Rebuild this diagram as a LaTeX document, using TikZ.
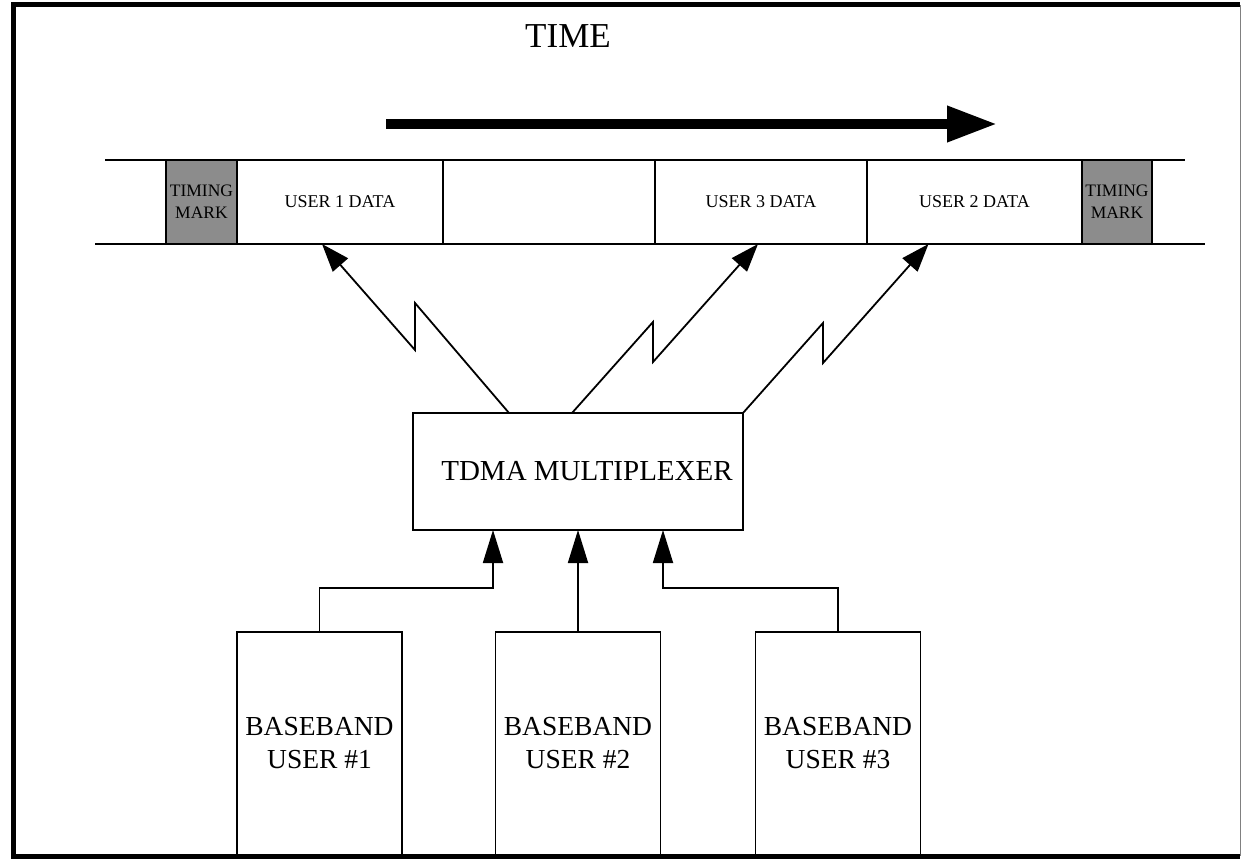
\documentclass[tikz,border=0pt]{standalone}
\usepackage{fontspec}
\setmainfont{Liberation Serif}
\usetikzlibrary{arrows.meta}

\begin{document}
\begin{tikzpicture}[x=1pt, y=-1pt,
  boite/.style={draw, line width=1.8pt, inner sep=0pt, outer sep=0pt},
  case/.style={boite, minimum height=84pt, font=\fontsize{18}{21}\selectfont},
  repere/.style={case, minimum width=70pt, fill=black!45, align=center, font=\fontsize{17.5}{22}\selectfont},
  bande/.style={boite, minimum width=165pt, minimum height=223pt, align=center, font=\fontsize{27.5}{33}\selectfont},
  radio/.style={line width=1.8pt, -{Triangle[length=28pt, width=20pt]}},
  fleche/.style={line width=1.8pt, -{Triangle[length=33pt, width=20pt]}}]
  \useasboundingbox (0,0) rectangle (1242,861);
  % Cadre
  \draw[line width=5pt] (1240,5) -- (13,5) -- (13,856) -- (1240,856);
  \draw[line width=1pt, black!50] (1240,5) -- (1240,856);
  % Temps
  \node[font=\fontsize{35}{40}\selectfont] (temps) at (568,36) {TIME};
  \coordinate (t0) at (386,124);
  \coordinate (t1) at (997,124);
  \draw[line width=10pt, -{Triangle[length=50pt, width=34pt]}] (t0) -- (t1);
  % Trame TDMA
  \draw[line width=1.8pt] (105,160) -- (1185,160);
  \draw[line width=1.8pt] (95,244) -- (1205,244);
  \node[repere, minimum width=71pt] (tm1) at (201.5,202) {TIMING\\MARK};
  \node[case, minimum width=206pt] (u1) at (340,202) {USER 1 DATA};
  \node[case, minimum width=212pt] (vide) at (549,202) {};
  \node[case, minimum width=212pt] (u3) at (761,202) {USER 3 DATA};
  \node[case, minimum width=215pt] (u2) at (974.5,202) {USER 2 DATA};
  \node[repere] (tm2) at (1117,202) {TIMING\\MARK};
  % Multiplexeur
  \node[boite, minimum width=330pt, minimum height=117pt, font=\fontsize{29}{34}\selectfont] (tdma) at (578,471.5) {\hspace*{18pt}TDMA MULTIPLEXER};
  % Liaisons radio
  \draw[radio] ([xshift=-69pt]tdma.north) -- ++(-94,-110) -- ++(0,47) -- ([xshift=-18pt]u1.south);
  \draw[radio] ([xshift=-6pt]tdma.north) -- ++(81,-91) -- ++(0,40) -- ([xshift=-3pt]u3.south);
  \draw[radio] (tdma.north east) -- ++(80,-90) -- ++(0,40) -- ([xshift=-46pt]u2.south);
  % Utilisateurs
  \node[bande] (bb1) at (319.5,743.5) {BASEBAND\\USER \#1};
  \node[bande] (bb2) at (578,743.5) {BASEBAND\\USER \#2};
  \node[bande] (bb3) at (838,743.5) {BASEBAND\\USER \#3};
  \draw[fleche] (bb1.north) -- ++(0,-44) -| ([xshift=-85pt]tdma.south);
  \draw[fleche] (bb2.north) -- (tdma.south);
  \draw[fleche] (bb3.north) -- ++(0,-44) -| ([xshift=85pt]tdma.south);
\end{tikzpicture}
\end{document}
